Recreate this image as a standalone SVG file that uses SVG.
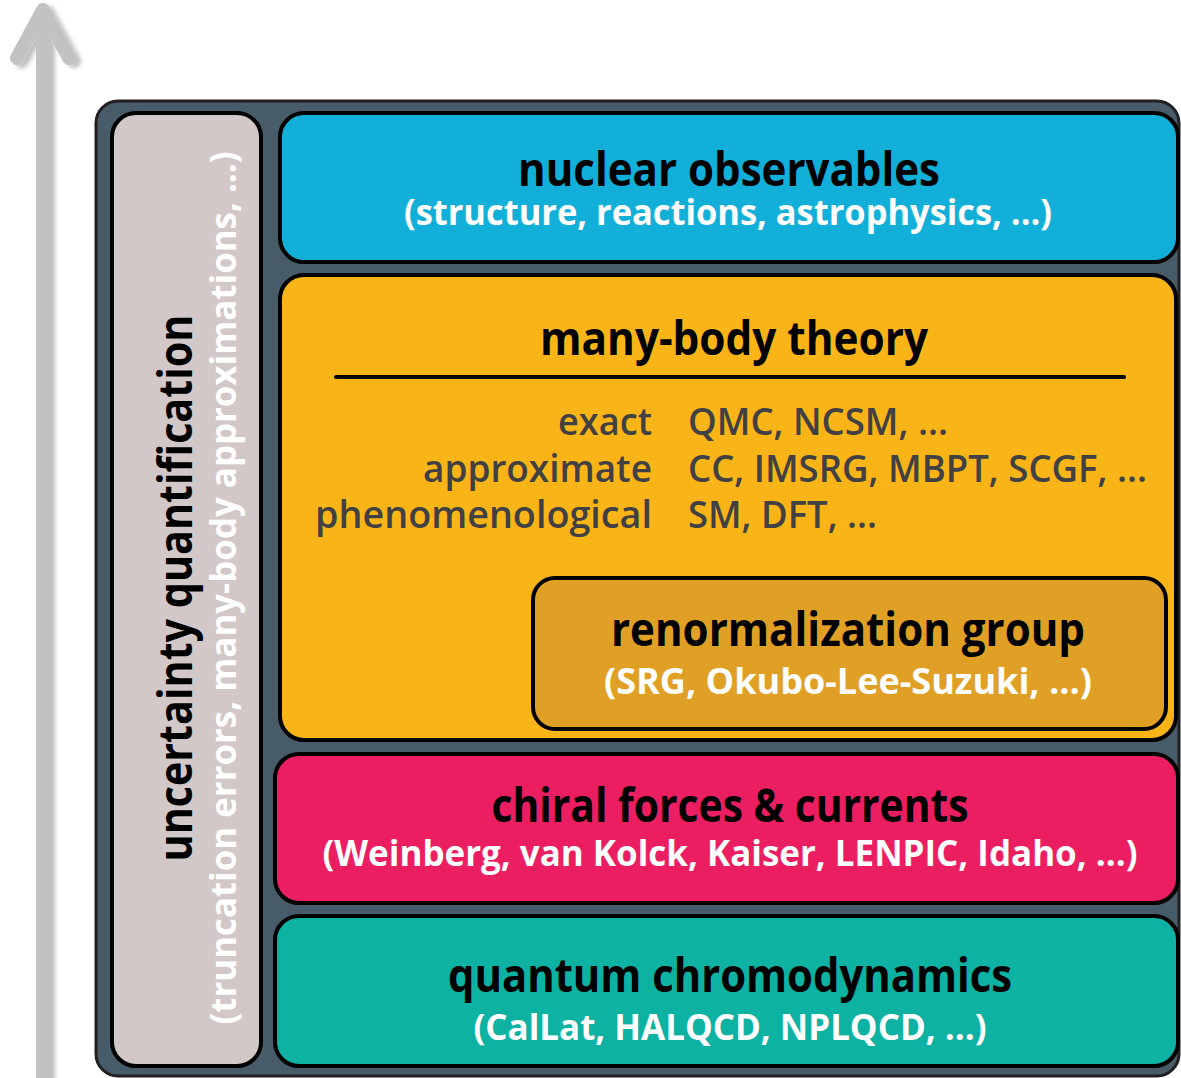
<svg xmlns="http://www.w3.org/2000/svg" width="1181" height="1078" viewBox="0 0 1181 1078">
<defs>
<filter id="shadow" x="-50%" y="-5%" width="200%" height="110%">
<feDropShadow dx="5" dy="3" stdDeviation="2" flood-color="#000" flood-opacity="0.25"/>
</filter>
</defs>
<style>
.box{stroke:#000;stroke-width:4}
.h{font-family:"Open Sans","Noto Sans","Liberation Sans",sans-serif;font-weight:700;font-size:46px;fill:#000;text-anchor:middle}
.s{font-family:"Open Sans","Noto Sans","Liberation Sans",sans-serif;font-weight:700;font-size:35px;fill:#fff;text-anchor:middle}
.m{font-family:"Open Sans","Noto Sans","Liberation Sans",sans-serif;font-weight:600;font-size:37px;fill:#414042}
</style>
<rect width="1181" height="1078" fill="#fff"/>
<g id="axis-arrow" filter="url(#shadow)" stroke="#c2c2c2" stroke-width="14" stroke-linecap="round" stroke-linejoin="round" fill="none">
<line x1="43" y1="12" x2="43" y2="1090"/>
<polyline points="17,58 43,10 69,58"/>
</g>
<g id="frame">
<rect x="96" y="101" width="1083" height="975" rx="22" fill="#475b69" stroke="#231f20" stroke-width="3"/>
</g>
<g id="uq">
<rect class="box" x="112" y="113" width="149" height="953" rx="24" fill="#d3c8c8"/>
<text class="h" font-size="50" transform="translate(192,588) rotate(-90)" textLength="547" lengthAdjust="spacingAndGlyphs">uncertainty quantification</text>
<text class="s" font-size="38" transform="translate(236,588) rotate(-90)" textLength="873" lengthAdjust="spacingAndGlyphs">(truncation errors, many-body approximations, ...)</text>
</g>
<g id="observables">
<rect class="box" x="280" y="113" width="898" height="149" rx="24" fill="#12b0d9"/>
<text class="h" x="729" y="186" textLength="422" lengthAdjust="spacingAndGlyphs">nuclear observables</text>
<text class="s" x="728" y="225" textLength="648" lengthAdjust="spacingAndGlyphs">(structure, reactions, astrophysics, ...)</text>
</g>
<g id="manybody">
<rect class="box" x="280" y="275" width="896" height="465" rx="24" fill="#f9b418"/>
<text class="h" x="734" y="355" textLength="388" lengthAdjust="spacingAndGlyphs">many-body theory</text>
<line x1="336" y1="377" x2="1124" y2="377" stroke="#000" stroke-width="4" stroke-linecap="round"/>
<text class="m" x="652" y="435" text-anchor="end" textLength="94" lengthAdjust="spacingAndGlyphs">exact</text>
<text class="m" x="652" y="482" text-anchor="end" textLength="229" lengthAdjust="spacingAndGlyphs">approximate</text>
<text class="m" x="652" y="528" text-anchor="end" textLength="337" lengthAdjust="spacingAndGlyphs">phenomenological</text>
<text class="m" x="688" y="435" textLength="260" lengthAdjust="spacingAndGlyphs">QMC, NCSM, ...</text>
<text class="m" x="688" y="482" textLength="459" lengthAdjust="spacingAndGlyphs">CC, IMSRG, MBPT, SCGF, ...</text>
<text class="m" x="688" y="528" textLength="189" lengthAdjust="spacingAndGlyphs">SM, DFT, ...</text>
</g>
<g id="rg">
<rect class="box" x="533" y="578" width="633" height="151" rx="22" fill="#e0a026"/>
<text class="h" x="848" y="646" textLength="474" lengthAdjust="spacingAndGlyphs">renormalization group</text>
<text class="s" x="848" y="694" textLength="488" lengthAdjust="spacingAndGlyphs">(SRG, Okubo-Lee-Suzuki, ...)</text>
</g>
<g id="chiral">
<rect class="box" x="275" y="754" width="903" height="149" rx="24" fill="#ec1e62"/>
<text class="h" x="730" y="822" textLength="477" lengthAdjust="spacingAndGlyphs">chiral forces &amp; currents</text>
<text class="s" x="730" y="866" textLength="815" lengthAdjust="spacingAndGlyphs">(Weinberg, van Kolck, Kaiser, LENPIC, Idaho, ...)</text>
</g>
<g id="qcd">
<rect class="box" x="275" y="916" width="903" height="150" rx="24" fill="#0eb2a3"/>
<text class="h" x="730" y="992" textLength="564" lengthAdjust="spacingAndGlyphs">quantum chromodynamics</text>
<text class="s" x="730" y="1040" textLength="513" lengthAdjust="spacingAndGlyphs">(CalLat, HALQCD, NPLQCD, ...)</text>
</g>
<g id="connectors"/>
</svg>
